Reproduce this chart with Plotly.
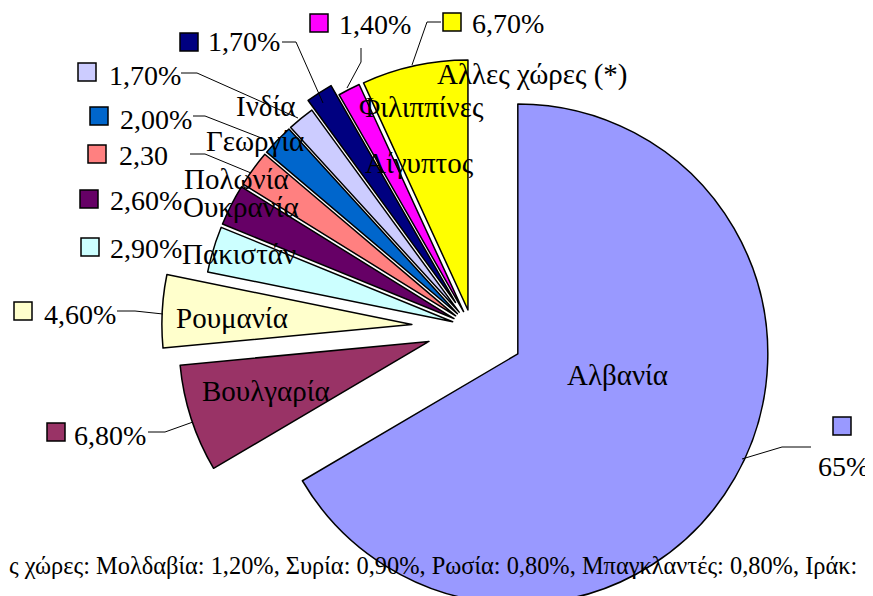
import plotly.graph_objects as go

# ---------------- data ----------------
countries = ["Αλβανία", "Βουλγαρία", "Ρουμανία", "Πακιστάν", "Ουκρανία", "Πολωνία",
             "Γεωργία", "Ινδία", "Αίγυπτος", "Φιλιππίνες", "Αλλες χώρες (*)"]
shares = [65, 6.8, 4.6, 2.9, 2.6, 2.3, 2.0, 1.7, 1.7, 1.4, 6.7]
pct_labels = ["65%", "6,80%", "4,60%", "2,90%", "2,60%", "2,30", "2,00%",
              "1,70%", "1,70%", "1,40%", "6,70%"]
footnote = ("ς χώρες: Μολδαβία: 1,20%, Συρία: 0,90%, Ρωσία: 0,80%, "
            "Μπαγκλαντές: 0,80%, Ιράκ:")

# ---------------- style ----------------
colors = ["#9999FF", "#993366", "#FFFFCC", "#CCFFFF", "#660066", "#FF8080",
          "#0066CC", "#CCCCFF", "#000080", "#FF00FF", "#FFFF00"]
R = 250.0
pull_px = [53, 45, 60, 20, 20, 20, 20, 20, 30, 18, 18]
pulls = [p / R for p in pull_px]

W, H = 873, 640
OFF = 8  # page offset of the plot div
CX, CY = 471.8 - OFF, 327.6 - OFF
FONT = "Liberation Serif"
FS_NAME = 29
FS_PCT = 28

half = R * (1 + max(pulls))
dom_x = [(CX - half - 30) / W, (CX + half + 30) / W]
dom_y = [1 - (CY + half) / H, 1 - (CY - half) / H]


def px(x):
    return (x - OFF) / W


def py(y):
    return 1 - (y - OFF) / H


fig = go.Figure()
fig.add_trace(go.Pie(
    labels=countries, values=shares, sort=False, direction="clockwise",
    rotation=0, pull=pulls, textinfo="none", hoverinfo="label+percent",
    marker=dict(colors=colors, line=dict(color="black", width=1.5)),
    domain=dict(x=dom_x, y=dom_y), showlegend=False,
))

ann = []
shapes = []

# country names (text centre positions in px)
name_pos = {
    "Αλβανία": (617, 375), "Βουλγαρία": (266, 391), "Ρουμανία": (232, 318),
    "Πακιστάν": (239, 254), "Ουκρανία": (241, 207), "Πολωνία": (236, 179),
    "Γεωργία": (255, 141), "Ινδία": (265, 106), "Αίγυπτος": (419, 163),
    "Φιλιππίνες": (421, 107), "Αλλες χώρες (*)": (532, 74),
}
for name in countries:
    x, y = name_pos[name]
    ann.append(dict(x=px(x), y=py(y), xref="paper", yref="paper", text=name,
                    showarrow=False, xanchor="center", yanchor="middle",
                    font=dict(family=FONT, size=FS_NAME, color="black")))

# percentage labels: square box, text left x, text centre y, leader polyline
lab = [
    (0, (833, 417), (816, 466), [(742, 459), (782, 447), (811, 447)]),
    (1, (47, 423), (72, 435), [(148, 432), (165, 432), (193, 422)]),
    (2, (14, 302), (42, 314), [(117, 311), (135, 311), (163, 314)]),
    (3, (81, 238), (108, 248), None),
    (4, (80, 190), (108, 201), None),
    (5, (88, 145), (117, 155), [(190, 154), (205, 154), (251, 173)]),
    (6, (90, 107), (118, 119), [(193, 116), (205, 116), (264, 139)]),
    (7, (78, 63), (107, 75), [(181, 73), (197, 73), (298, 118)]),
    (8, (180, 33), (206, 42), [(282, 42), (296, 42), (323, 103)]),
    (9, (310, 14), (337, 24), [(361, 48), (361, 62), (347, 88)]),
    (10, (443, 13), (470, 23), [(441, 22), (427, 22), (412, 65)]),
]
SQ = 18
for idx, (sx, sy), (tx, ty), lead in lab:
    shapes.append(dict(type="rect", xref="paper", yref="paper",
                       x0=px(sx), x1=px(sx + SQ), y0=py(sy), y1=py(sy + SQ),
                       fillcolor=colors[idx], line=dict(color="black", width=1.5)))
    ann.append(dict(x=px(tx), y=py(ty), xref="paper", yref="paper",
                    text=pct_labels[idx], showarrow=False, xanchor="left",
                    yanchor="middle", font=dict(family=FONT, size=FS_PCT, color="black")))
    if lead:
        path = "M " + " L ".join(f"{px(a)},{py(b)}" for a, b in lead)
        shapes.append(dict(type="path", xref="paper", yref="paper", path=path,
                           line=dict(color="black", width=1)))

ann.append(dict(x=px(433), y=py(565), xref="paper", yref="paper", text=footnote,
                showarrow=False, xanchor="center", yanchor="middle",
                font=dict(family=FONT, size=24.4, color="black")))

fig.update_layout(
    width=W, height=H, margin=dict(l=0, r=0, t=0, b=0),
    paper_bgcolor="white", plot_bgcolor="white",
    annotations=ann, shapes=shapes, showlegend=False,
)

fig.write_html("out.html")
